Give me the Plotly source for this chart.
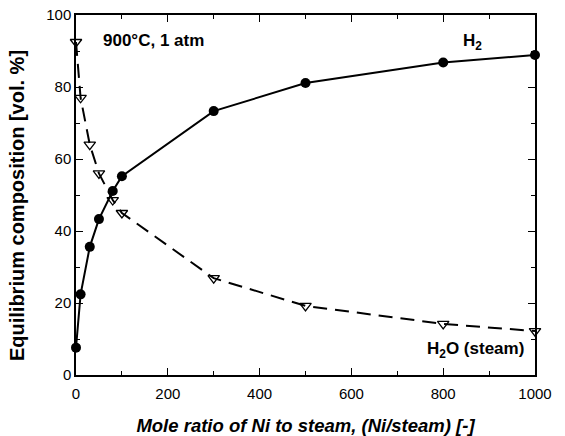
import plotly.graph_objects as go

ratio = [0, 10, 30, 50, 80, 100, 300, 500, 800, 1000]
h2 = [7.6, 22.4, 35.6, 43.3, 51.1, 55.2, 73.3, 81.1, 86.8, 88.9]
h2o = [92.5, 77.0, 64.0, 56.0, 48.6, 45.0, 26.9, 19.2, 14.2, 12.2]

FONT = "Liberation Sans, Arial"

fig = go.Figure()
fig.add_trace(go.Scatter(x=ratio, y=h2o, mode="lines+markers", cliponaxis=False,
                         line=dict(color="black", width=2, dash="14px,8px"),
                         marker=dict(symbol="triangle-down-open", size=10, color="black",
                                     line=dict(width=1.3, color="black")),
                         showlegend=False))
fig.add_trace(go.Scatter(x=ratio, y=h2, mode="lines+markers", cliponaxis=False,
                         line=dict(color="black", width=2),
                         marker=dict(symbol="circle", size=10, color="black"),
                         showlegend=False))

axis_common = dict(showline=True, linecolor="black", linewidth=1.5, mirror="ticks",
                   ticks="inside", ticklen=7, tickwidth=1.2, tickcolor="black",
                   showgrid=False, zeroline=False, automargin=False,
                   tickfont=dict(family=FONT, size=15, color="black"))

fig.update_xaxes(range=[0, 1000], dtick=200, tick0=0, ticklabelstandoff=4,
                 minor=dict(ticks="inside", dtick=100, ticklen=4, tickcolor="black"),
                 title=dict(text="<b><i>Mole ratio of Ni to steam, (Ni/steam) [-]</i></b>",
                            font=dict(family=FONT, size=18.5, color="black"),
                            standoff=18),
                 **axis_common)
fig.update_yaxes(range=[0, 100], dtick=20, tick0=0,
                 minor=dict(ticks="inside", dtick=10, ticklen=4, tickcolor="black"),
                 **axis_common)

fig.add_annotation(x=-0.128, y=0.47, xref="paper", yref="paper",
                   text="<b>Equilibrium composition [vol. %]</b>", textangle=-90,
                   showarrow=False, xanchor="center", yanchor="middle",
                   font=dict(family=FONT, size=20, color="black"))

ann_font = dict(family=FONT, size=17, color="black")
fig.add_annotation(x=54, y=92.8, xref="x", yref="y", text="<b>900°C, 1 atm</b>",
                   showarrow=False, xanchor="left", font=ann_font)
fig.add_annotation(x=863, y=92.5, xref="x", yref="y", text="<b>H<sub>2</sub></b>",
                   showarrow=False, xanchor="center", font=ann_font)
fig.add_annotation(x=980, y=7.0, xref="x", yref="y", text="<b>H<sub>2</sub>O (steam)</b>",
                   showarrow=False, xanchor="right", font=ann_font)

fig.update_layout(width=565, height=436, plot_bgcolor="white", paper_bgcolor="white",
                  margin=dict(l=76, r=30, t=15, b=61))
fig.write_html("out.html")
